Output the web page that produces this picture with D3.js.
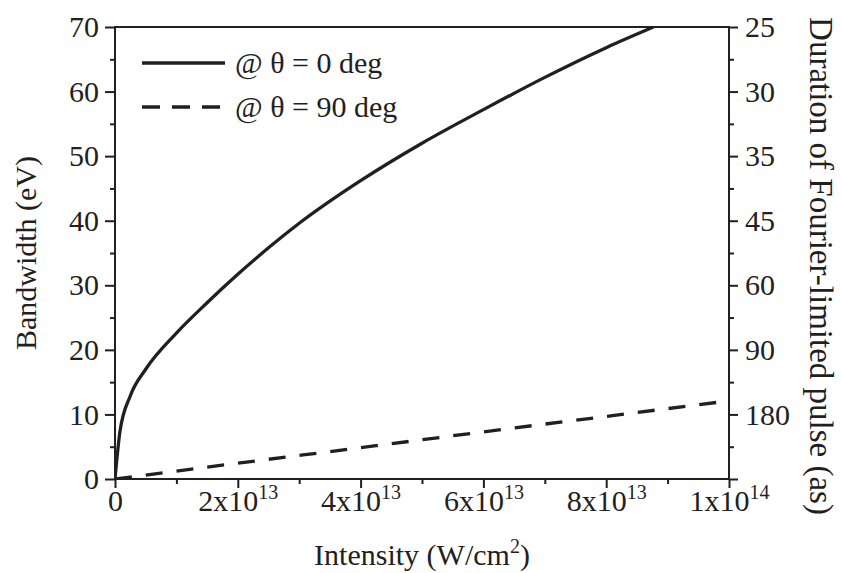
<!DOCTYPE html>
<html><head><meta charset="utf-8">
<script src="https://cdn.jsdelivr.net/npm/d3@7"></script>
<style>
body{margin:0;background:#fff}
svg{display:block}
text{font-family:"Liberation Serif","Times New Roman",Times,serif;fill:#231f20}
</style>
</head><body><svg id="c" width="841" height="573"></svg>
<script>
// Data (intensity in units of 1e13 W/cm^2, bandwidth in eV)
const intensityTheta0 = [0, 0.08, 0.25, 0.5, 1, 1.5, 2, 2.5, 3, 4, 5, 6, 7, 8, 8.77];
const bandwidthTheta0 = [0, 7.3, 12.9, 17.0, 22.6, 27.3, 31.7, 35.8, 39.6, 46.2, 52.0, 57.2, 62.2, 66.8, 70];
const intensityTheta90 = [0, 2, 4, 6, 8, 10];
const bandwidthTheta90 = [0, 2.45, 4.85, 7.3, 9.7, 12.1];
const intensityUnit = 1e13;

const xTicks = [0, 2e13, 4e13, 6e13, 8e13, 1e14];
const xTickBase = ["0", "2x10", "4x10", "6x10", "8x10", "1x10"];
const xTickExp = ["", "13", "13", "13", "13", "14"];
const xMinorTicks = [1e13, 3e13, 5e13, 7e13, 9e13];
const yTicks = [0, 10, 20, 30, 40, 50, 60, 70];
const yMinorTicks = [5, 15, 25, 35, 45, 55, 65];
const rightTickBW = [0, 10, 20, 30, 40, 50, 60, 70];
const rightTickLabels = ["", "180", "90", "60", "45", "35", "30", "25"];
const seriesNames = ["@ \u03b8 = 0 deg", "@ \u03b8 = 90 deg"];

const svg = d3.select("#c");
const x = d3.scaleLinear().domain([0, 1e14]).range([115, 729]);
const y = d3.scaleLinear().domain([0, 70]).range([479, 27]);
const FS = 30;
const ink = "#231f20";
const FF = '"Liberation Serif","Times New Roman",Times,serif';

svg.append("defs").append("clipPath").attr("id","clip")
  .append("rect").attr("x", x(0)).attr("y", y(70)).attr("width", x(1e14)-x(0)).attr("height", y(0)-y(70));

function styleAxis(g){
  g.select(".domain").remove();
  g.selectAll("line").attr("stroke", ink).attr("stroke-width", 2);
  g.attr("font-family", FF).attr("font-size", FS);
  g.selectAll("text").attr("fill", ink);
}

// minor ticks
svg.append("g").attr("transform", `translate(0,${y(0)})`)
  .call(d3.axisBottom(x).tickValues(xMinorTicks).tickSize(5).tickFormat(""))
  .call(styleAxis);
svg.append("g").attr("transform", `translate(${x(0)},0)`)
  .call(d3.axisLeft(y).tickValues(yMinorTicks).tickSize(5).tickFormat(""))
  .call(styleAxis);
svg.append("g").attr("transform", `translate(${x(1e14)},0)`)
  .call(d3.axisRight(y).tickValues(yMinorTicks).tickSize(5).tickFormat(""))
  .call(styleAxis);

// major ticks
const gx = svg.append("g").attr("transform", `translate(0,${y(0)})`)
  .call(d3.axisBottom(x).tickValues(xTicks).tickSize(9).tickPadding(2).tickFormat(""))
  .call(styleAxis);
gx.selectAll(".tick").each(function(d, i){
  const t = d3.select(this).append("text")
    .attr("y", 32).attr("text-anchor", "middle").attr("fill", ink);
  t.append("tspan").text(xTickBase[i]);
  if (xTickExp[i]) t.append("tspan").attr("font-size", 20).attr("dy", -12).text(xTickExp[i]);
});

svg.append("g").attr("transform", `translate(${x(0)},0)`)
  .call(d3.axisLeft(y).tickValues(yTicks).tickSize(10).tickPadding(6).tickFormat(d3.format("d")))
  .call(styleAxis);

svg.append("g").attr("transform", `translate(${x(1e14)},0)`)
  .call(d3.axisRight(y).tickValues(rightTickBW).tickSize(9).tickPadding(7)
    .tickFormat((d, i) => rightTickLabels[i]))
  .call(styleAxis);

// frame
svg.append("rect").attr("x", x(0)).attr("y", y(70))
  .attr("width", x(1e14)-x(0)).attr("height", y(0)-y(70))
  .attr("fill", "none").attr("stroke", ink).attr("stroke-width", 2);

// curves
const line = d3.line().x(d => x(d[0]*intensityUnit)).y(d => y(d[1])).curve(d3.curveMonotoneX);
const plot = svg.append("g").attr("clip-path", "url(#clip)");
plot.append("path").datum(d3.zip(intensityTheta0, bandwidthTheta0))
  .attr("d", line).attr("fill", "none").attr("stroke", ink).attr("stroke-width", 3.3);
plot.append("path").datum(d3.zip(intensityTheta90, bandwidthTheta90))
  .attr("d", line).attr("fill", "none").attr("stroke", ink).attr("stroke-width", 3.3)
  .attr("stroke-dasharray", "17,14");

// legend
const legend = svg.append("g").attr("font-family", FF).attr("font-size", FS);
const legY = [63, 107];
const dashes = [null, "18,12"];
seriesNames.forEach((name, i) => {
  legend.append("line").attr("x1", 142).attr("x2", 225).attr("y1", legY[i]).attr("y2", legY[i])
    .attr("stroke", ink).attr("stroke-width", 3.3).attr("stroke-dasharray", dashes[i]);
  legend.append("text").attr("x", 235).attr("y", legY[i] + 10).text(name);
});

// axis titles
const titles = svg.append("g").attr("font-family", FF).attr("font-size", FS);
const xt = titles.append("text").attr("x", (x(0)+x(1e14))/2).attr("y", 565)
  .attr("text-anchor", "middle");
xt.append("tspan").text("Intensity (W/cm");
xt.append("tspan").attr("font-size", 20).attr("dy", -12).text("2");
xt.append("tspan").attr("dy", 12).text(")");

titles.append("text").attr("transform", `translate(36,${(y(0)+y(70))/2}) rotate(-90)`)
  .attr("text-anchor", "middle").text("Bandwidth (eV)");

titles.append("text").attr("transform", `translate(810,266) rotate(90)`)
  .attr("text-anchor", "middle").attr("font-size", 33).text("Duration of Fourier-limited pulse (as)");
</script>
</body></html>
